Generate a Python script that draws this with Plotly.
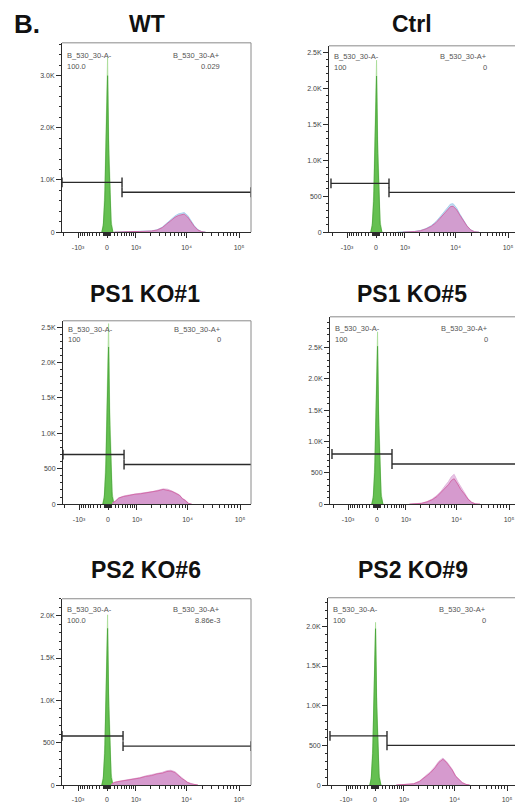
import numpy as np
import plotly.graph_objects as go

# ---------------------------------------------------------------- data
SAMPLES = ["WT", "Ctrl", "PS1 KO#1", "PS1 KO#5", "PS2 KO#6", "PS2 KO#9"]
NEG_GATE = "B_530_30-A-"
POS_GATE = "B_530_30-A+"
NEG_PCT = ["100.0", "100", "100", "100", "100.0", "100"]
POS_PCT = ["0.029", "0", "0", "0", "8.86e-3", "0"]

# biexponential (arcsinh) display of the B_530_30-A channel
COFACTOR = 610.0
X_MIN = -2157.0
X_MAX = 169000.0
X_TICKS = [-1000, 0, 1000, 10000, 100000]
X_TICK_TEXT = ["-10³", "0", "10³", "10⁴", "10⁵"]
X_MINOR = ([-2000] + [-v for v in range(900, 0, -100)] + [-v for v in range(90, 0, -10)]
           + list(range(10, 100, 10)) + list(range(100, 1000, 100))
           + list(range(2000, 10000, 1000)) + list(range(20000, 100000, 10000)))

# gates: boundary between "-" and "+" gates, and the heights the gate bars sit at
GATE_SPLIT = [431, 367, 465, 431, 465, 336]
GATE_NEG_Y = [955, 678, 700, 800, 580, 620]
GATE_POS_Y = [765, 553, 560, 640, 460, 500]

# count axis
Y_MAX = [3630, 2590, 2590, 2990, 2200, 2360]
Y_MAJOR = [1000, 500, 500, 500, 500, 500]
Y_MINOR = [200, 100, 100, 100, 100, 100]

# unstained peak (green), two overlaid acquisitions
GREEN_X = [-140, -100, -60, -30, 0, 15, 45, 75, 110, 160]
GREEN_LIGHT = [
    [0, 170, 800, 1950, 3100, 3350, 1800, 800, 230, 0],
    [0, 120, 570, 1390, 2220, 2390, 1290, 570, 165, 0],
    [0, 130, 610, 1480, 2370, 2550, 1380, 610, 175, 0],
    [0, 140, 660, 1600, 2560, 2750, 1480, 660, 190, 0],
    [0, 100, 480, 1170, 1870, 2010, 1090, 480, 140, 0],
    [0, 105, 490, 1190, 1900, 2050, 1110, 490, 145, 0],
]
GREEN_DARK = [
    [0, 120, 600, 1650, 2850, 3000, 1500, 600, 150, 0],
    [0, 90, 430, 1190, 2060, 2170, 1090, 430, 110, 0],
    [0, 90, 440, 1220, 2110, 2220, 1110, 440, 110, 0],
    [0, 100, 500, 1390, 2390, 2520, 1260, 500, 125, 0],
    [0, 75, 370, 1020, 1760, 1850, 925, 370, 90, 0],
    [0, 80, 395, 1080, 1870, 1970, 985, 395, 100, 0],
]

# stained populations, two overlaid acquisitions
STAIN_X = [120, 200, 300, 450, 650, 900, 1200, 1600, 2100, 2700, 3400, 4200,
           5000, 6000, 7000, 8000, 9000, 10500, 12000, 14000, 16500, 19500, 23000, 28000]
STAIN_BACK = [
    [0, 0, 3, 6, 8, 10, 12, 14, 24, 45, 95, 175, 250, 310, 350, 370, 375, 320, 225, 125, 48, 10, 0, 0],
    [0, 0, 0, 0, 0, 2, 5, 10, 24, 50, 90, 145, 210, 280, 350, 390, 395, 335, 255, 170, 90, 32, 6, 0],
    [18, 45, 90, 114, 130, 145, 155, 166, 178, 195, 215, 210, 190, 158, 130, 80, 58, 12, 0, 0, 0, 0, 0, 0],
    [0, 0, 0, 0, 0, 0, 0, 5, 15, 40, 80, 140, 200, 290, 360, 440, 475, 360, 270, 190, 90, 30, 5, 0],
    [12, 33, 43, 54, 61, 72, 88, 108, 120, 140, 150, 170, 175, 158, 118, 86, 64, 33, 16, 6, 0, 0, 0, 0],
    [0, 0, 0, 0, 0, 4, 9, 17, 50, 105, 165, 232, 300, 340, 300, 248, 200, 118, 75, 33, 9, 0, 0, 0],
]
STAIN_FRONT = [
    [0, 0, 4, 8, 10, 12, 12, 15, 22, 40, 85, 160, 230, 285, 320, 340, 345, 290, 200, 110, 40, 8, 0, 0],
    [0, 0, 0, 0, 0, 0, 3, 8, 20, 45, 80, 130, 190, 255, 320, 355, 360, 310, 240, 160, 85, 30, 5, 0],
    [15, 40, 85, 108, 122, 140, 146, 162, 168, 188, 208, 198, 180, 150, 125, 75, 52, 8, 0, 0, 0, 0, 0, 0],
    [0, 0, 0, 0, 0, 0, 0, 4, 12, 35, 70, 120, 180, 250, 310, 380, 405, 320, 235, 165, 80, 25, 4, 0],
    [10, 30, 40, 50, 57, 68, 82, 102, 112, 132, 140, 160, 165, 148, 110, 80, 60, 30, 15, 5, 0, 0, 0, 0],
    [0, 0, 0, 0, 0, 3, 8, 15, 45, 95, 150, 215, 285, 325, 285, 235, 190, 110, 70, 30, 8, 0, 0, 0],
]

# ---------------------------------------------------------------- layout (pixels)
W, H = 515, 805
PX_PER_UNIT = 22.79
# plot boxes: left, right, top, bottom (bottom = zero count line)
BOXES = [
    (62, 251, 43, 233), (329, 515, 46, 233),
    (63, 251, 322, 506), (330, 515, 318, 506),
    (62, 251, 601, 788), (328, 515, 600, 788),
]
TITLE_POS = [(147, 24), (412, 24), (145, 295), (412, 295), (146, 572), (413, 572)]
LABEL_Y = [56, 57, 331, 330, 612, 612]
VALUE_Y = [67, 68, 341, 341, 623, 623]

FONT = "Liberation Sans, Arial, sans-serif"
AXIS_COLOR = "#2b2b2b"
TICK_FONT = dict(family=FONT, size=7, color="#444")


def disp(v):
    return np.arcsinh(np.asarray(v, dtype=float) / COFACTOR)


def kfmt(v):
    if v == 0:
        return "0"
    if v < 1000:
        return str(int(v))
    return f"{v / 1000:.1f}K"


def occupied(xs, ys):
    """Keep the bins of a histogram that hold events, plus one empty bin on each side."""
    ys = np.asarray(ys, dtype=float)
    nz = np.nonzero(ys)[0]
    lo, hi = max(nz[0] - 1, 0), min(nz[-1] + 1, len(ys) - 1)
    return disp(xs[lo:hi + 1]), ys[lo:hi + 1]


fig = go.Figure()
shapes, annotations = [], []

for i, name in enumerate(SAMPLES):
    l, r, t, b = BOXES[i]
    sfx = "" if i == 0 else str(i + 1)
    xa, ya = "x" + sfx, "y" + sfx
    right_col = (i % 2 == 1)

    # visible x range: right column is cut at the page edge
    x_lo = float(disp(X_MIN)) if not right_col else -47 / PX_PER_UNIT
    x_hi = x_lo + (r - l) / PX_PER_UNIT

    common = dict(xaxis=xa, yaxis=ya, hoverinfo="skip", showlegend=False)

    # unstained control (green)
    gx, gy = occupied(GREEN_X, GREEN_LIGHT[i])
    fig.add_trace(go.Scatter(x=gx, y=gy, mode="lines", fill="tozeroy",
                             line=dict(color="#a8dc97", width=0.8),
                             fillcolor="rgba(185,228,170,0.9)", **common))
    gx, gy = occupied(GREEN_X, GREEN_DARK[i])
    fig.add_trace(go.Scatter(x=gx, y=gy, mode="lines", fill="tozeroy",
                             line=dict(color="#46a337", width=0.8),
                             fillcolor="rgba(96,190,76,0.95)", **common))

    # stained samples
    back_line = "#9cc9ea" if i < 2 else "#dcaed8"
    back_fill = "rgba(175,210,238,0.75)" if i < 2 else "rgba(228,185,225,0.85)"
    sx, sy = occupied(STAIN_X, STAIN_BACK[i])
    fig.add_trace(go.Scatter(x=sx, y=sy, mode="lines", fill="tozeroy",
                             line=dict(color=back_line, width=0.8),
                             fillcolor=back_fill, **common))
    sx, sy = occupied(STAIN_X, STAIN_FRONT[i])
    fig.add_trace(go.Scatter(x=sx, y=sy, mode="lines", fill="tozeroy",
                             line=dict(color="#cf5a9c", width=0.8),
                             fillcolor="rgba(212,150,203,0.9)", **common))

    # gates
    for xs, yv in (([X_MIN, GATE_SPLIT[i]], GATE_NEG_Y[i]), ([GATE_SPLIT[i], X_MAX], GATE_POS_Y[i])):
        fig.add_trace(go.Scatter(x=disp(xs), y=[yv, yv], mode="lines+markers", cliponaxis=True,
                                 line=dict(color=AXIS_COLOR, width=1.4),
                                 marker=dict(symbol="line-ns", size=7,
                                             line=dict(color=AXIS_COLOR, width=1.4)), **common))

    # axes
    y_major = list(range(0, Y_MAX[i] + 1, Y_MAJOR[i]))
    fig.update_layout(**{
        "xaxis" + sfx: dict(
            domain=[l / W, r / W], anchor=ya, range=[x_lo, x_hi],
            tickmode="array", tickvals=disp(X_TICKS), ticktext=X_TICK_TEXT,
            ticks="outside", ticklen=5, tickwidth=1, tickcolor=AXIS_COLOR,
            tickfont=TICK_FONT, ticklabelstandoff=3,
            showline=True, linecolor=AXIS_COLOR, linewidth=1,
            showgrid=False, zeroline=False, fixedrange=True,
            minor=dict(tickmode="array", tickvals=disp(X_MINOR), ticks="outside",
                       ticklen=3, tickwidth=0.8, tickcolor=AXIS_COLOR, showgrid=False),
        ),
        "yaxis" + sfx: dict(
            domain=[1 - b / H, 1 - t / H], anchor=xa, range=[0, Y_MAX[i]],
            tickmode="array", tickvals=y_major, ticktext=[kfmt(v) for v in y_major],
            ticks="outside", ticklen=5, tickwidth=1, tickcolor=AXIS_COLOR,
            tickfont=TICK_FONT, showline=True, linecolor=AXIS_COLOR, linewidth=1,
            showgrid=False, zeroline=False, fixedrange=True,
            minor=dict(dtick=Y_MINOR[i], ticks="outside", ticklen=2.5, tickwidth=0.8,
                       tickcolor=AXIS_COLOR, showgrid=False),
        ),
    })

    # top (and right) frame in light grey
    if right_col:
        shapes.append(dict(type="line", xref="paper", yref="paper",
                           x0=l / W, x1=1.0, y0=1 - t / H, y1=1 - t / H,
                           line=dict(color="#8a8a8a", width=1)))
    else:
        shapes.append(dict(type="path", xref="paper", yref="paper",
                           path=f"M {l / W},{1 - t / H} L {r / W},{1 - t / H} L {r / W},{1 - b / H}",
                           line=dict(color="#8a8a8a", width=1)))

    # panel title
    tx, ty = TITLE_POS[i]
    annotations.append(dict(text=f"<b>{name}</b>", x=tx / W, y=1 - ty / H, xref="paper", yref="paper",
                            xanchor="center", yanchor="middle", showarrow=False,
                            font=dict(family=FONT, size=23, color="#111")))
    # gate labels and frequencies
    small = dict(family=FONT, size=7.5, color="#555")
    annotations += [
        dict(text=NEG_GATE, x=(l + 3) / W, y=1 - LABEL_Y[i] / H, xref="paper", yref="paper",
             xanchor="left", yanchor="middle", showarrow=False, font=small),
        dict(text=NEG_PCT[i], x=(l + 3) / W, y=1 - VALUE_Y[i] / H, xref="paper", yref="paper",
             xanchor="left", yanchor="middle", showarrow=False, font=small),
        dict(text=POS_GATE, x=(l + 160) / W, y=1 - LABEL_Y[i] / H, xref="paper", yref="paper",
             xanchor="right", yanchor="middle", showarrow=False, font=small),
        dict(text=POS_PCT[i], x=(l + 160) / W, y=1 - VALUE_Y[i] / H, xref="paper", yref="paper",
             xanchor="right", yanchor="middle", showarrow=False, font=small),
    ]

# figure panel letter
annotations.append(dict(text="<b>B.</b>", x=12 / W, y=1 - 24 / H, xref="paper", yref="paper",
                        xanchor="left", yanchor="middle", showarrow=False,
                        font=dict(family=FONT, size=26, color="#111")))

fig.update_layout(width=W, height=H, margin=dict(l=0, r=0, t=0, b=0),
                  paper_bgcolor="white", plot_bgcolor="white",
                  shapes=shapes, annotations=annotations)

fig.write_html("out.html")
